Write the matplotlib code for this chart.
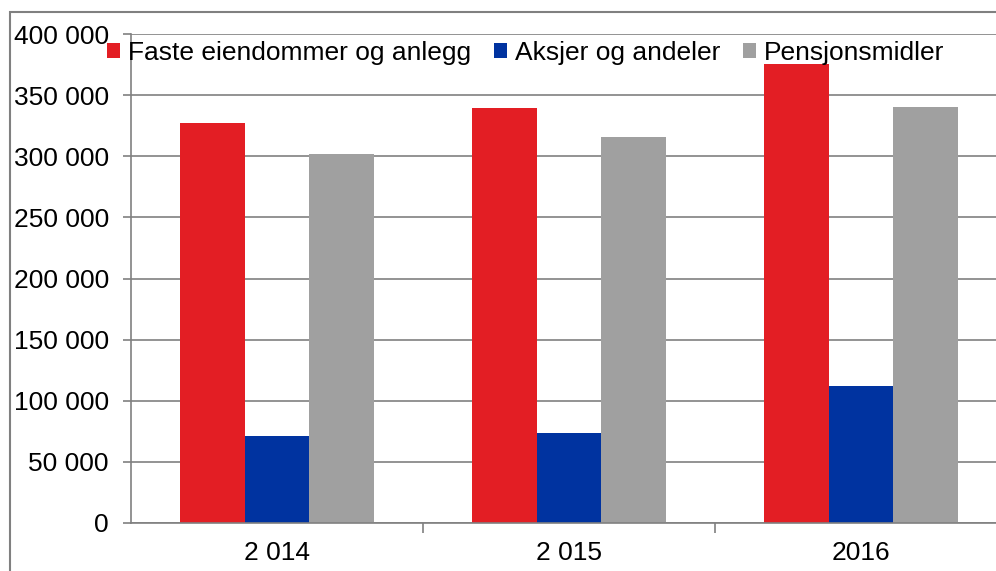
import matplotlib
matplotlib.use("Agg")
from matplotlib import pyplot as plt
from matplotlib.patches import Rectangle
import numpy as np

plt.rcParams['font.family'] = ['Liberation Sans', 'DejaVu Sans']

# data
years = ["2 014", "2 015", "2016"]
faste = [327000, 339500, 375500]
aksjer = [71500, 73500, 112000]
pensjon = [302000, 315500, 340500]
series_names = ["Faste eiendommer og anlegg", "Aksjer og andeler", "Pensjonsmidler"]
colors = ["#e31e24", "#0033a0", "#a0a0a0"]
yticks = np.arange(0, 400001, 50000)

W, H = 996, 571
fig = plt.figure(figsize=(W / 100, H / 100), dpi=100)
# plot area runs past the right edge like in the scan
ax = fig.add_axes([131 / W, (H - 523) / H, 876 / W, 489 / H])

# outer chart frame
fig.add_artist(Rectangle((10 / W, -0.1), 1.2, (H - 12) / H + 0.1, transform=fig.transFigure,
                         fill=False, edgecolor="#808080", linewidth=1.5))

x = np.arange(len(years))
w = 1 / 4.5  # excel-style gap width 150%
for i, (vals, name, c) in enumerate(zip([faste, aksjer, pensjon], series_names, colors)):
    ax.bar(x + (i - 1) * w, vals, w, color=c, label=name, zorder=2)

ax.set_xlim(-0.5, 2.5)
ax.set_ylim(0, 400000)
ax.set_yticks(yticks)
ax.set_yticklabels([f"{v:,}".replace(",", " ") for v in yticks], fontsize=19)
ax.yaxis.grid(True, color="#808080", linewidth=1.2, zorder=0)
ax.set_axisbelow(True)

ax.set_xticks(x)
ax.set_xticklabels(years, fontsize=19)
ax.set_xticks([0.5, 1.5], minor=True)
ax.tick_params(axis="x", which="major", length=0, pad=13)
ax.tick_params(axis="x", which="minor", length=7, color="#808080", width=1.2)
ax.tick_params(axis="y", length=6, color="#808080", width=1.2, pad=10)

for s in ["top", "right"]:
    ax.spines[s].set_visible(False)
for s in ["left", "bottom"]:
    ax.spines[s].set_color("#808080")
    ax.spines[s].set_linewidth(1.2)

leg = ax.legend(loc="center left", bbox_to_anchor=(107 / W, 1 - 53 / H), bbox_transform=fig.transFigure,
                ncol=3, frameon=False, fontsize=19, handlelength=0.5, handleheight=0.5,
                handletextpad=0.3, columnspacing=0.85, borderpad=0, borderaxespad=0)

fig.savefig("out.png", dpi=100)
